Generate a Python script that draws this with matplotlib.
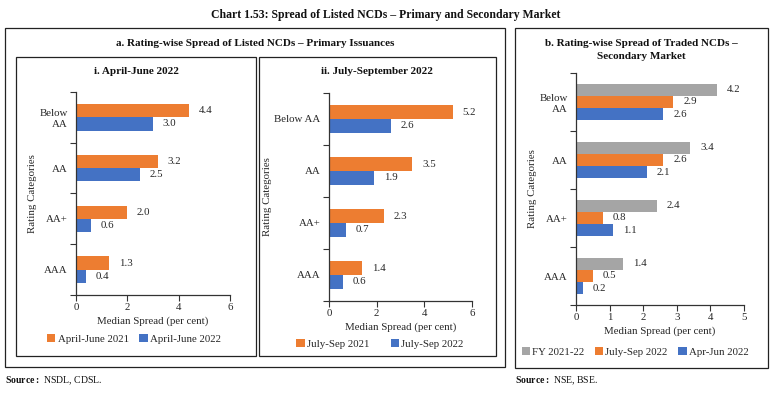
import matplotlib.pyplot as plt
from matplotlib.patches import Rectangle, Patch
import numpy as np

W, H = 772, 394

# categories bottom -> top
cats_a = ['AAA', 'AA+', 'AA', 'Below\nAA']
cats_b = ['AAA', 'AA+', 'AA', 'Below AA']

apr_jun_2021 = [1.3, 2.0, 3.2, 4.4]
apr_jun_2022 = [0.4, 0.6, 2.5, 3.0]

jul_sep_2021 = [1.4, 2.3, 3.5, 5.2]
jul_sep_2022 = [0.6, 0.7, 1.9, 2.6]

fy_2122 = [1.4, 2.4, 3.4, 4.2]
sec_jul_sep_2022 = [0.5, 0.8, 2.6, 2.9]
sec_apr_jun_2022 = [0.2, 1.1, 2.1, 2.6]

ORANGE = '#ED7D31'
BLUE = '#4472C4'
GREY = '#A5A5A5'
TXT = '#262626'
FS = 7.8

plt.rcParams['font.family'] = ['Liberation Serif', 'DejaVu Serif']
plt.rcParams['mathtext.fontset'] = 'custom'
plt.rcParams['mathtext.rm'] = 'Liberation Serif'
plt.rcParams['mathtext.bf'] = 'Liberation Serif:bold'

fig = plt.figure(figsize=(W / 100, H / 100), dpi=100)


def fx(x):
    return x / W


def fy(y):
    return 1 - y / H


def add_axes(l, t, r, b):
    return fig.add_axes([fx(l), fy(b), (r - l) / W, (b - t) / H])


def frame(l, t, r, b, lw=0.9):
    fig.patches.append(Rectangle((fx(l), fy(b)), (r - l) / W, (b - t) / H,
                                 transform=fig.transFigure, fill=False,
                                 edgecolor='#222222', linewidth=lw))


def hbars(ax, cats, series, colors, height, xmax, step):
    n = len(series)
    y = np.arange(len(cats))
    for i, (vals, col) in enumerate(zip(series, colors)):
        off = (n - 1) / 2 * height - i * height
        bars = ax.barh(y + off, vals, height=height, color=col)
        for bar, v in zip(bars, vals):
            ax.annotate(f'{v:.1f}', (bar.get_width(), bar.get_y() + bar.get_height() / 2),
                        xytext=(7, 0), textcoords='offset points', va='center',
                        ha='left', fontsize=FS, color=TXT)
    ax.set_ylim(-0.5, len(cats) - 0.5)
    ax.set_xlim(0, xmax)
    ax.set_xticks(np.arange(0, xmax + 0.01, step))
    ax.set_yticks(y)
    ax.set_yticklabels(cats, fontsize=FS, color=TXT, linespacing=1.3)
    ax.set_yticks(np.arange(-0.5, len(cats)), minor=True)
    ax.tick_params(axis='y', which='major', length=0, pad=6)
    ax.tick_params(axis='y', which='minor', length=4, width=0.8, color='#333333')
    ax.tick_params(axis='x', length=4, width=0.8, color='#333333', labelsize=FS,
                   labelcolor=TXT, pad=2)
    for s in ['top', 'right']:
        ax.spines[s].set_visible(False)
    for s in ['left', 'bottom']:
        ax.spines[s].set_color('#333333')
        ax.spines[s].set_linewidth(0.9)
    ax.set_xlabel('Median Spread (per cent)', fontsize=FS, color=TXT, labelpad=3)
    ax.set_ylabel('Rating Categories', fontsize=FS, color=TXT, labelpad=2)


# frames
frame(5, 28, 505, 367)
frame(16, 57, 256, 356)
frame(259, 57, 496, 356)
frame(515, 28, 768, 368)

# titles
fig.text(fx(386), fy(15), 'Chart 1.53: Spread of Listed NCDs \u2013 Primary and Secondary Market',
         ha='center', va='center', fontsize=8.5, fontweight='bold', color='#111111')
fig.text(fx(255), fy(43), 'a. Rating-wise Spread of Listed NCDs \u2013 Primary Issuances',
         ha='center', va='center', fontsize=8, fontweight='bold', color='#111111')
fig.text(fx(136), fy(71), 'i. April-June 2022', ha='center', va='center',
         fontsize=8, fontweight='bold', color='#111111')
fig.text(fx(377), fy(71), 'ii. July-September 2022', ha='center', va='center',
         fontsize=8, fontweight='bold', color='#111111')
fig.text(fx(641), fy(50), 'b. Rating-wise Spread of Traded NCDs \u2013\nSecondary Market',
         ha='center', va='center', fontsize=8, fontweight='bold', color='#111111',
         linespacing=1.45)

# panel i
ax1 = add_axes(76, 92, 230, 295)
hbars(ax1, cats_a, [apr_jun_2021, apr_jun_2022], [ORANGE, BLUE], 0.26, 6, 2)

# panel ii
ax2 = add_axes(329, 93, 472, 301)
hbars(ax2, cats_b, [jul_sep_2021, jul_sep_2022], [ORANGE, BLUE], 0.26, 6, 2)

# panel b
ax3 = add_axes(576, 73, 744, 305)
hbars(ax3, cats_a, [fy_2122, sec_jul_sep_2022, sec_apr_jun_2022], [GREY, ORANGE, BLUE],
      0.21, 5, 1)


def legend(labels, colors, cx, cy, spacing):
    handles = [Patch(facecolor=c, edgecolor='none') for c in colors]
    fig.legend(handles, labels, loc='center', bbox_to_anchor=(fx(cx), fy(cy)),
               ncol=len(labels), frameon=False, fontsize=FS, handlelength=0.75,
               handleheight=0.75, handletextpad=0.2, columnspacing=spacing,
               labelcolor=TXT)


legend(['April-June 2021', 'April-June 2022'], [ORANGE, BLUE], 134, 339, 1.0)
legend(['July-Sep 2021', 'July-Sep 2022'], [ORANGE, BLUE], 380, 344, 2.0)
legend(['FY 2021-22', 'July-Sep 2022', 'Apr-Jun 2022'], [GREY, ORANGE, BLUE], 635, 352, 1.0)

# sources
fig.text(fx(5), fy(383), r'$\mathbf{Source{:}}$ NSDL, CDSL.', fontsize=7,
         va='baseline', color='#111111')
fig.text(fx(515), fy(383), r'$\mathbf{Source{:}}$ NSE, BSE.', fontsize=7,
         va='baseline', color='#111111')

fig.savefig('out.png', dpi=100)
